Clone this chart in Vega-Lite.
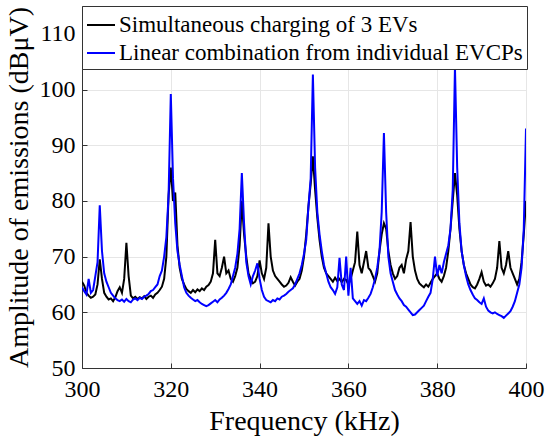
{
  "$schema": "https://vega.github.io/schema/vega-lite/v6.json",
  "width": 444,
  "height": 362,
  "autosize": "none",
  "padding": {"left": 82, "top": 6, "right": 24, "bottom": 76},
  "background": "white",
  "config": {
    "view": {"stroke": "#333333", "strokeWidth": 1},
    "font": "Liberation Serif",
    "axis": {
      "labelFont": "Liberation Serif",
      "labelFontSize": 24,
      "labelColor": "black",
      "labelFlush": false,
      "titleFont": "Liberation Serif",
      "titleFontWeight": "normal",
      "titleColor": "black",
      "titleFontSize": 28,
      "gridColor": "#e6e6e6",
      "domainColor": "#333333",
      "tickColor": "#333333",
      "tickSize": -5
    },
    "legend": {
      "orient": "none",
      "legendX": 0,
      "legendY": 0,
      "fillColor": "white",
      "strokeColor": "#333333",
      "padding": 4,
      "rowPadding": 1,
      "symbolType": "stroke",
      "symbolSize": 784,
      "symbolStrokeWidth": 2,
      "labelFont": "Liberation Serif",
      "labelFontSize": 23,
      "labelColor": "black",
      "labelLimit": 0,
      "labelOffset": 3
    }
  },
  "datasets": {
    "sim": [
      {"f":300,"v":65.5},{"f":300.5,"v":64.8},{"f":301,"v":63.5},{"f":301.5,"v":63},{"f":302,"v":62.6},{"f":302.5,"v":62.8},{"f":303,"v":63.2},{"f":303.5,"v":65},{"f":304,"v":69.5},{"f":304.5,"v":66},
      {"f":305,"v":63.5},{"f":305.5,"v":62.8},{"f":306,"v":62.3},{"f":306.5,"v":62.5},{"f":307,"v":62},{"f":307.5,"v":62.7},{"f":308,"v":63.8},{"f":308.5,"v":64.5},{"f":309,"v":63.5},{"f":309.5,"v":66},
      {"f":310,"v":72.5},{"f":310.5,"v":66.5},{"f":311,"v":63},{"f":311.5,"v":62.5},{"f":312,"v":62.8},{"f":312.5,"v":62.4},{"f":313,"v":62.7},{"f":313.5,"v":62.5},{"f":314,"v":62.9},{"f":314.5,"v":62.4},
      {"f":315,"v":62.8},{"f":315.5,"v":63},{"f":316,"v":62.6},{"f":316.5,"v":63.2},{"f":317,"v":63.5},{"f":317.5,"v":64},{"f":318,"v":64.6},{"f":318.5,"v":66},{"f":319,"v":70},{"f":319.5,"v":81},
      {"f":320,"v":86},{"f":320.5,"v":80},{"f":321,"v":81.5},{"f":321.5,"v":72},{"f":322,"v":68},{"f":322.5,"v":66},{"f":323,"v":65},{"f":323.5,"v":64.2},{"f":324,"v":63.8},{"f":324.5,"v":63.5},
      {"f":325,"v":64},{"f":325.5,"v":63.6},{"f":326,"v":64.1},{"f":326.5,"v":63.8},{"f":327,"v":64.3},{"f":327.5,"v":64},{"f":328,"v":64.6},{"f":328.5,"v":64.9},{"f":329,"v":65.5},{"f":329.5,"v":67},
      {"f":330,"v":73},{"f":330.5,"v":67},{"f":331,"v":66.5},{"f":331.5,"v":68},{"f":332,"v":70},{"f":332.5,"v":67},{"f":333,"v":67.5},{"f":333.5,"v":66},{"f":334,"v":65.5},{"f":334.5,"v":66.5},
      {"f":335,"v":68},{"f":335.5,"v":72},{"f":336,"v":80},{"f":336.5,"v":74},{"f":337,"v":70},{"f":337.5,"v":67},{"f":338,"v":66},{"f":338.5,"v":65.2},{"f":339,"v":65.5},{"f":339.5,"v":66.5},
      {"f":340,"v":69.3},{"f":340.5,"v":67},{"f":341,"v":66},{"f":341.5,"v":68},{"f":342,"v":76},{"f":342.5,"v":70},{"f":343,"v":67.5},{"f":343.5,"v":66.5},{"f":344,"v":66},{"f":344.5,"v":65.5},
      {"f":345,"v":65},{"f":345.5,"v":64.6},{"f":346,"v":64.8},{"f":346.5,"v":65.3},{"f":347,"v":66.3},{"f":347.5,"v":65.5},{"f":348,"v":64.8},{"f":348.5,"v":65.5},{"f":349,"v":66},{"f":349.5,"v":67.5},
      {"f":350,"v":70},{"f":350.5,"v":74},{"f":351,"v":79},{"f":351.5,"v":83},{"f":352,"v":88},{"f":352.5,"v":82},{"f":353,"v":77},{"f":353.5,"v":73},{"f":354,"v":70},{"f":354.5,"v":68},
      {"f":355,"v":67},{"f":355.5,"v":66.5},{"f":356,"v":66},{"f":356.5,"v":65.5},{"f":357,"v":66.2},{"f":357.5,"v":65.6},{"f":358,"v":66},{"f":358.5,"v":65.4},{"f":359,"v":66},{"f":359.5,"v":65.8},
      {"f":360,"v":65},{"f":360.5,"v":66},{"f":361,"v":67.5},{"f":361.5,"v":69},{"f":362,"v":74.5},{"f":362.5,"v":68.5},{"f":363,"v":67},{"f":363.5,"v":69},{"f":364,"v":71},{"f":364.5,"v":68},
      {"f":365,"v":67.5},{"f":365.5,"v":66.5},{"f":366,"v":65.5},{"f":366.5,"v":67},{"f":367,"v":71},{"f":367.5,"v":74},{"f":368,"v":76},{"f":368.5,"v":75},{"f":369,"v":71},{"f":369.5,"v":68.5},
      {"f":370,"v":67},{"f":370.5,"v":66},{"f":371,"v":66.5},{"f":371.5,"v":68},{"f":372,"v":68.5},{"f":372.5,"v":67},{"f":373,"v":69.5},{"f":373.5,"v":71},{"f":374,"v":76.2},{"f":374.5,"v":70},
      {"f":375,"v":67.5},{"f":375.5,"v":66},{"f":376,"v":65.2},{"f":376.5,"v":64.8},{"f":377,"v":64.5},{"f":377.5,"v":65},{"f":378,"v":64.6},{"f":378.5,"v":65.3},{"f":379,"v":66},{"f":379.5,"v":66.5},
      {"f":380,"v":67},{"f":380.5,"v":66},{"f":381,"v":65.5},{"f":381.5,"v":66.5},{"f":382,"v":68},{"f":382.5,"v":71},{"f":383,"v":75},{"f":383.5,"v":80},{"f":384,"v":85},{"f":384.5,"v":81},
      {"f":385,"v":75},{"f":385.5,"v":71},{"f":386,"v":68.5},{"f":386.5,"v":67},{"f":387,"v":66},{"f":387.5,"v":65},{"f":388,"v":64.5},{"f":388.5,"v":64.3},{"f":389,"v":65},{"f":389.5,"v":66},
      {"f":390,"v":67.2},{"f":390.5,"v":65.5},{"f":391,"v":64.8},{"f":391.5,"v":65},{"f":392,"v":64.6},{"f":392.5,"v":65.2},{"f":393,"v":66},{"f":393.5,"v":68},{"f":394,"v":72.8},{"f":394.5,"v":68},
      {"f":395,"v":67},{"f":395.5,"v":68.5},{"f":396,"v":71},{"f":396.5,"v":68},{"f":397,"v":67},{"f":397.5,"v":66},{"f":398,"v":65},{"f":398.5,"v":66},{"f":399,"v":69},{"f":399.5,"v":74},
      {"f":400,"v":80}
    ],
    "lin": [
      {"f":300,"v":64.5},{"f":300.5,"v":63.8},{"f":301,"v":63.2},{"f":301.5,"v":66},{"f":302,"v":63.5},{"f":302.5,"v":64},{"f":303,"v":66.5},{"f":303.5,"v":69},{"f":304,"v":79.2},{"f":304.5,"v":71},
      {"f":305,"v":67},{"f":305.5,"v":65.5},{"f":306,"v":64.5},{"f":306.5,"v":63.5},{"f":307,"v":63},{"f":307.5,"v":62.5},{"f":308,"v":62.2},{"f":308.5,"v":62},{"f":309,"v":62.3},{"f":309.5,"v":61.9},
      {"f":310,"v":62.4},{"f":310.5,"v":62},{"f":311,"v":61.8},{"f":311.5,"v":62.3},{"f":312,"v":62.5},{"f":312.5,"v":62.2},{"f":313,"v":62.6},{"f":313.5,"v":62.4},{"f":314,"v":62.8},{"f":314.5,"v":63},
      {"f":315,"v":63.3},{"f":315.5,"v":63.8},{"f":316,"v":64},{"f":316.5,"v":64.5},{"f":317,"v":65},{"f":317.5,"v":66.5},{"f":318,"v":67.5},{"f":318.5,"v":70},{"f":319,"v":73.5},{"f":319.5,"v":81},
      {"f":320,"v":99.2},{"f":320.5,"v":84},{"f":321,"v":76},{"f":321.5,"v":71},{"f":322,"v":68.5},{"f":322.5,"v":66.5},{"f":323,"v":64.5},{"f":323.5,"v":63.5},{"f":324,"v":63},{"f":324.5,"v":62.6},
      {"f":325,"v":62.3},{"f":325.5,"v":62},{"f":326,"v":62.2},{"f":326.5,"v":61.8},{"f":327,"v":61.5},{"f":327.5,"v":61.3},{"f":328,"v":61.1},{"f":328.5,"v":61.3},{"f":329,"v":61.6},{"f":329.5,"v":61.9},
      {"f":330,"v":62.2},{"f":330.5,"v":61.8},{"f":331,"v":62.3},{"f":331.5,"v":62.6},{"f":332,"v":63},{"f":332.5,"v":63.5},{"f":333,"v":64.2},{"f":333.5,"v":65},{"f":334,"v":66.5},{"f":334.5,"v":68},
      {"f":335,"v":70.5},{"f":335.5,"v":75},{"f":336,"v":85},{"f":336.5,"v":76},{"f":337,"v":69},{"f":337.5,"v":66.5},{"f":338,"v":65},{"f":338.5,"v":66.5},{"f":339,"v":67.5},{"f":339.5,"v":68.8},
      {"f":340,"v":66},{"f":340.5,"v":64},{"f":341,"v":62.8},{"f":341.5,"v":62.2},{"f":342,"v":62},{"f":342.5,"v":61.8},{"f":343,"v":62.2},{"f":343.5,"v":62},{"f":344,"v":62.5},{"f":344.5,"v":62.3},
      {"f":345,"v":62.8},{"f":345.5,"v":63},{"f":346,"v":63.3},{"f":346.5,"v":63.7},{"f":347,"v":64},{"f":347.5,"v":64.3},{"f":348,"v":65},{"f":348.5,"v":66},{"f":349,"v":67},{"f":349.5,"v":68.5},
      {"f":350,"v":70.5},{"f":350.5,"v":73},{"f":351,"v":79},{"f":351.5,"v":84},{"f":352,"v":102.7},{"f":352.5,"v":86},{"f":353,"v":78},{"f":353.5,"v":74},{"f":354,"v":71},{"f":354.5,"v":68.5},
      {"f":355,"v":67},{"f":355.5,"v":65.5},{"f":356,"v":64.5},{"f":356.5,"v":64},{"f":357,"v":63.3},{"f":357.5,"v":64.5},{"f":358,"v":69.8},{"f":358.5,"v":65},{"f":359,"v":64},{"f":359.5,"v":70},
      {"f":360,"v":63},{"f":360.5,"v":68},{"f":361,"v":62.5},{"f":361.5,"v":62},{"f":362,"v":61.5},{"f":362.5,"v":62},{"f":363,"v":61.2},{"f":363.5,"v":62.2},{"f":364,"v":62},{"f":364.5,"v":62.6},
      {"f":365,"v":63.3},{"f":365.5,"v":64.5},{"f":366,"v":66},{"f":366.5,"v":68},{"f":367,"v":71},{"f":367.5,"v":78},{"f":368,"v":92.2},{"f":368.5,"v":78},{"f":369,"v":70},{"f":369.5,"v":67},
      {"f":370,"v":65.5},{"f":370.5,"v":64},{"f":371,"v":63.2},{"f":371.5,"v":62.5},{"f":372,"v":62},{"f":372.5,"v":61.3},{"f":373,"v":61},{"f":373.5,"v":60.5},{"f":374,"v":60},{"f":374.5,"v":59.5},
      {"f":375,"v":59.6},{"f":375.5,"v":60},{"f":376,"v":60.4},{"f":376.5,"v":60.8},{"f":377,"v":61.2},{"f":377.5,"v":62},{"f":378,"v":62.8},{"f":378.5,"v":63.5},{"f":379,"v":66},{"f":379.5,"v":70},
      {"f":380,"v":66.5},{"f":380.5,"v":68.5},{"f":381,"v":67},{"f":381.5,"v":69},{"f":382,"v":70.5},{"f":382.5,"v":72},{"f":383,"v":75},{"f":383.5,"v":82},{"f":384,"v":104},{"f":384.5,"v":86},
      {"f":385,"v":76},{"f":385.5,"v":71},{"f":386,"v":68.5},{"f":386.5,"v":66.5},{"f":387,"v":65},{"f":387.5,"v":64},{"f":388,"v":63.2},{"f":388.5,"v":62.5},{"f":389,"v":62.2},{"f":389.5,"v":61.8},
      {"f":390,"v":61.5},{"f":390.5,"v":62.5},{"f":391,"v":61},{"f":391.5,"v":60.3},{"f":392,"v":60},{"f":392.5,"v":59.8},{"f":393,"v":60},{"f":393.5,"v":59.7},{"f":394,"v":59.5},{"f":394.5,"v":59.3},
      {"f":395,"v":59},{"f":395.5,"v":59.4},{"f":396,"v":59.8},{"f":396.5,"v":60.2},{"f":397,"v":61},{"f":397.5,"v":62},{"f":398,"v":63.5},{"f":398.5,"v":65},{"f":399,"v":68},{"f":399.5,"v":75},
      {"f":400,"v":93}
    ]
  },
  "encoding": {
    "x": {
      "field": "f",
      "type": "quantitative",
      "title": "Frequency (kHz)",
      "scale": {"domain": [300, 400], "nice": false},
      "axis": {"values": [300, 320, 340, 360, 380, 400], "labelFont": "Liberation Serif", "titleFont": "Liberation Serif", "labelPadding": 14, "titlePadding": 6}
    },
    "y": {
      "field": "v",
      "type": "quantitative",
      "title": "Amplitude of emissions (dBμV)",
      "scale": {"domain": [50, 115], "nice": false},
      "axis": {"values": [50, 60, 70, 80, 90, 100, 110], "labelFont": "Liberation Serif", "titleFont": "Liberation Serif", "labelPadding": 12, "titlePadding": 6}
    },
    "color": {
      "type": "nominal",
      "scale": {
        "domain": ["Simultaneous charging of 3 EVs", "Linear combination from individual EVCPs"],
        "range": ["black", "#0000ff"]
      },
      "legend": {"title": null}
    }
  },
  "layer": [
    {
      "data": {"name": "sim"},
      "mark": {"type": "line", "strokeWidth": 2, "clip": true},
      "encoding": {"color": {"datum": "Simultaneous charging of 3 EVs"}}
    },
    {
      "data": {"name": "lin"},
      "mark": {"type": "line", "strokeWidth": 2, "clip": true},
      "encoding": {"color": {"datum": "Linear combination from individual EVCPs"}}
    }
  ]
}
